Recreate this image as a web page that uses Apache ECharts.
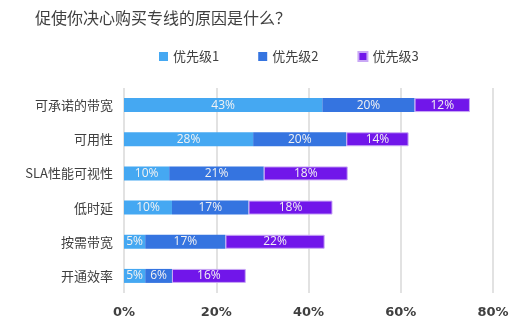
<!DOCTYPE html>
<html><head><meta charset="utf-8">
<script src="https://cdn.jsdelivr.net/npm/echarts@6/dist/echarts.min.js"></script>
<style>html,body{margin:0;padding:0;background:#fff}#c{width:518px;height:332px}</style>
</head><body><div id="c"></div>
<script>
const categories = ['可承诺的带宽','可用性','SLA性能可视性','低时延','按需带宽','开通效率'];
const seriesNames = ['优先级1','优先级2','优先级3'];
const p1 = [43, 28, 9.8, 10.4, 4.6, 4.6];
const p2 = [20, 20.2, 20.5, 16.6, 17.4, 5.8];
const p3 = [12, 13.5, 18.2, 18.2, 21.5, 16];
const colors = ['#45A8F2', '#3574E0', '#7116EA'];
const borders = ['#45A8F2', '#3574E0', '#C9A8F5'];
const font = '"Noto Sans CJK SC", sans-serif';
const chart = echarts.init(document.getElementById('c'));
const mk = (name, data, i) => ({
  name, type: 'bar', stack: 's', data, barWidth: 14,
  itemStyle: { color: colors[i], borderColor: borders[i], borderWidth: i === 2 ? 1 : 0 },
  label: { show: true, position: 'inside', color: '#F2F2F2', fontSize: 12,
    fontFamily: '"Open Sans", sans-serif',
    formatter: p => Math.round(p.value) + '%' }
});
chart.setOption({
  animation: false,
  title: { text: '促使你决心购买专线的原因是什么？', left: 30, top: 5,
    textStyle: { fontSize: 16, fontWeight: 'normal', color: '#404040', fontFamily: font } },
  legend: { data: seriesNames, left: 154, top: 45, itemWidth: 9, itemHeight: 9, itemGap: 39,
    icon: 'rect', textStyle: { fontSize: 13, color: '#404040', fontFamily: font } },
  grid: { left: 124, right: 25, top: 88, bottom: 39, containLabel: false },
  xAxis: { type: 'value', min: 0, max: 80, interval: 20,
    axisLine: { show: false }, axisTick: { show: false },
    splitLine: { lineStyle: { color: '#D9D9D9', width: 1.5 } },
    axisLabel: { formatter: '{value}%', fontWeight: 'bold', fontSize: 13, color: '#404040', margin: 13,
      fontFamily: '"DejaVu Sans", sans-serif' } },
  yAxis: { type: 'category', data: categories, inverse: true,
    axisLine: { show: false }, axisTick: { show: false },
    axisLabel: { fontSize: 13, color: '#404040', margin: 11, fontFamily: font } },
  series: [mk(seriesNames[0], p1, 0), mk(seriesNames[1], p2, 1), mk(seriesNames[2], p3, 2)]
});
</script></body></html>
